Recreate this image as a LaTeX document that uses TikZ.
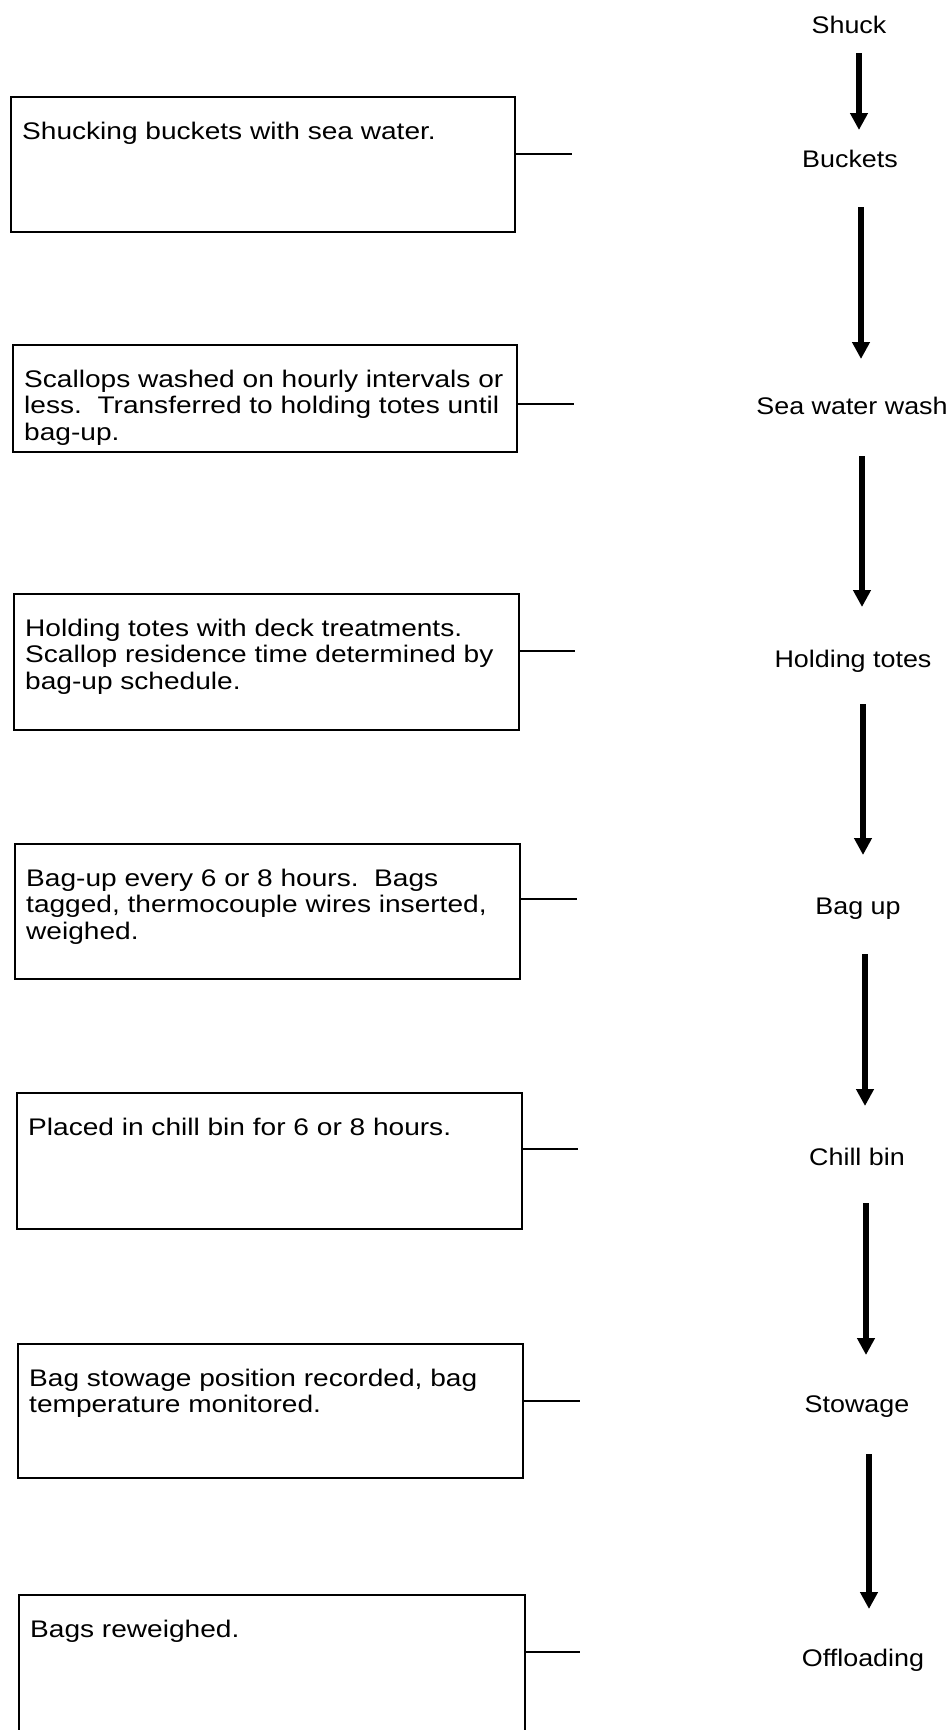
\documentclass[tikz,border=0pt]{standalone}
\usepackage{fontspec}
\setmainfont{Liberation Sans}
\newfontfamily\descfont{Liberation Sans}[FakeStretch=1.17]
\newfontfamily\stagefont{Liberation Sans}[FakeStretch=1.12]
\usetikzlibrary{arrows.meta,calc}
\begin{document}
\begin{tikzpicture}[x=1pt,y=-1pt,
  box/.style={draw, line width=2pt, inner sep=0pt, outer sep=0pt, anchor=north west},
  desc/.style={anchor=base west, inner sep=0pt, font=\descfont\fontsize{24}{26.5}\selectfont},
  stage/.style={anchor=base, inner sep=0pt, font=\stagefont\fontsize{24}{30}\selectfont},
  link/.style={line width=2.5pt},
  flow/.style={line width=5.5pt, -{Triangle[width=17pt,length=17pt]}}]
\useasboundingbox (0,0) rectangle (951,1730);
\begin{scope}
\clip (0,0) rectangle (951,1730);
% boxes
\node[box, minimum width=504pt, minimum height=135pt] (b1) at (11,97) {};
\node[box, minimum width=504pt, minimum height=107pt] (b2) at (13,345) {};
\node[box, minimum width=505pt, minimum height=136pt] (b3) at (14,594) {};
\node[box, minimum width=505pt, minimum height=135pt] (b4) at (15,844) {};
\node[box, minimum width=505pt, minimum height=136pt] (b5) at (17,1093) {};
\node[box, minimum width=505pt, minimum height=134pt] (b6) at (18,1344) {};
\node[box, minimum width=506pt, minimum height=145pt] (b7) at (19,1595) {};
\end{scope}
% descriptions
\node[desc] (t1) at ($(b1.north west)+(11,42)$) {\vtop{\hbox{Shucking buckets with sea water.}}};
\node[desc] (t2) at ($(b2.north west)+(11,42)$) {\vtop{\baselineskip=26.5pt\hbox{Scallops washed on hourly intervals or}\hbox{less.\ \ Transferred to holding totes until}\hbox{bag-up.}}};
\node[desc] (t3) at ($(b3.north west)+(11,42)$) {\vtop{\baselineskip=26.5pt\hbox{Holding totes with deck treatments.}\hbox{Scallop residence time determined by}\hbox{bag-up schedule.}}};
\node[desc] (t4) at ($(b4.north west)+(11,42)$) {\vtop{\baselineskip=26.5pt\hbox{Bag-up every 6 or 8 hours.\ \ Bags}\hbox{tagged, thermocouple wires inserted,}\hbox{weighed.}}};
\node[desc] (t5) at ($(b5.north west)+(11,42)$) {\vtop{\hbox{Placed in chill bin for 6 or 8 hours.}}};
\node[desc] (t6) at ($(b6.north west)+(11,42)$) {\vtop{\baselineskip=26.5pt\hbox{Bag stowage position recorded, bag}\hbox{temperature monitored.}}};
\node[desc] (t7) at ($(b7.north west)+(11,42)$) {\vtop{\hbox{Bags reweighed.}}};
% connector ends
\coordinate (c1) at (572,154);
\coordinate (c2) at (574,404);
\coordinate (c3) at (575,651);
\coordinate (c4) at (577,899);
\coordinate (c5) at (578,1149);
\coordinate (c6) at (580,1401);
\coordinate (c7) at (580,1652);
\draw[link] (b1.east |- c1) -- (c1);
\draw[link] (b2.east |- c2) -- (c2);
\draw[link] (b3.east |- c3) -- (c3);
\draw[link] (b4.east |- c4) -- (c4);
\draw[link] (b5.east |- c5) -- (c5);
\draw[link] (b6.east |- c6) -- (c6);
\draw[link] (b7.east |- c7) -- (c7);
% stages
\node[stage] (s1) at (849,33) {Shuck};
\node[stage] (s2) at (850,167) {Buckets};
\node[stage] (s3) at (852,414) {Sea water wash};
\node[stage] (s4) at (853,667) {Holding totes};
\node[stage] (s5) at (858,914) {Bag up};
\node[stage] (s6) at (857,1165) {Chill bin};
\node[stage] (s7) at (857,1412) {Stowage};
\node[stage] (s8) at (863,1666) {Offloading};
% flow arrows
\draw[flow] ($(s1.base)+(10,20)$) -- ($(s2.base)+(9,-37)$);
\draw[flow] ($(s2.base)+(11,40)$) -- ($(s3.base)+(9,-55)$);
\draw[flow] ($(s3.base)+(10,42)$) -- ($(s4.base)+(9,-60)$);
\draw[flow] ($(s4.base)+(10,37)$) -- ($(s5.base)+(5,-59)$);
\draw[flow] ($(s5.base)+(7,40)$) -- ($(s6.base)+(8,-59)$);
\draw[flow] ($(s6.base)+(9,38)$) -- ($(s7.base)+(9,-57)$);
\draw[flow] ($(s7.base)+(12,42)$) -- ($(s8.base)+(6,-57)$);
\end{tikzpicture}
\end{document}
